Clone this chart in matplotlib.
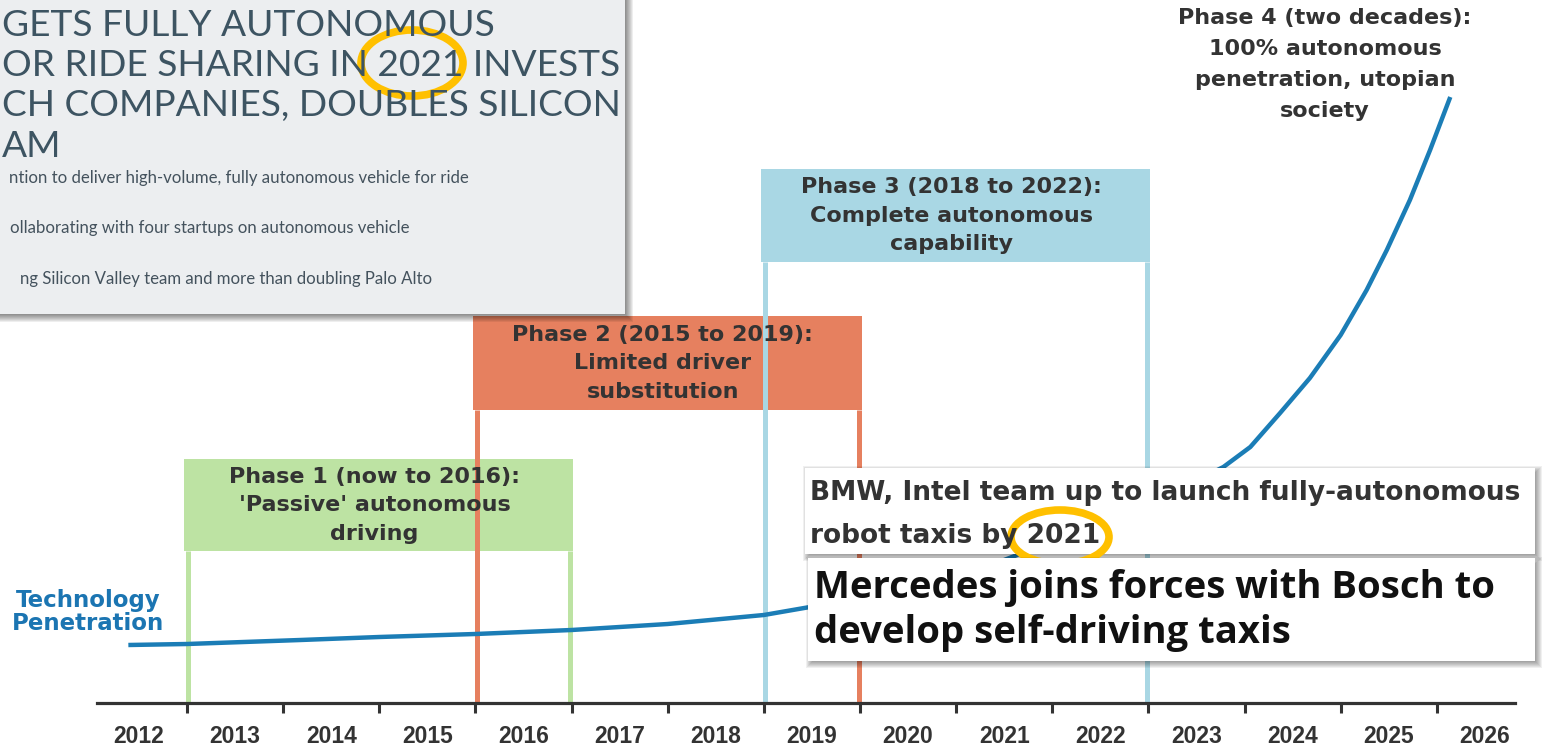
import matplotlib
matplotlib.use("Agg")
import matplotlib.pyplot as plt
from matplotlib.patches import Rectangle, Ellipse

# ---------------- data ----------------
years = list(range(2012, 2027))
tick_years = list(range(2013, 2027))

phase_labels = [
    "Phase 1 (now to 2016):\n'Passive' autonomous\ndriving",
    "Phase 2 (2015 to 2019):\nLimited driver\nsubstitution",
    "Phase 3 (2018 to 2022):\nComplete autonomous\ncapability",
]
phase_start = [2013, 2016, 2019]
phase_end = [2017, 2020, 2023]
phase4_label = "Phase 4 (two decades):\n100% autonomous\npenetration, utopian\nsociety"

curve_label = "Technology\nPenetration"
curve_years = [2012.39, 2013.0, 2014.18, 2015.0, 2016.0, 2017.0, 2018.0, 2019.0,
               2019.48, 2020.5, 2021.5, 2022.5, 2023.2, 2023.78, 2024.06, 2024.37,
               2024.68, 2025.0, 2025.27, 2025.48, 2025.72, 2025.93, 2026.14]
curve_values = [58, 59, 63, 66, 69, 73, 79, 88, 96, 115, 143, 180, 208, 236,
                256, 290, 325, 368, 413, 453, 503, 553, 606]

ford_headline = ["GETS FULLY AUTONOMOUS", "OR RIDE SHARING IN 2021 INVESTS",
                 "CH COMPANIES, DOUBLES SILICON", "AM"]
ford_body = ["ntion to deliver high-volume, fully autonomous vehicle for ride",
             "ollaborating with four startups on autonomous vehicle",
             "ng Silicon Valley team and more than doubling Palo Alto"]
bmw_headline = ["BMW, Intel team up to launch fully-autonomous", "robot taxis by 2021"]
mercedes_headline = ["Mercedes joins forces with Bosch to", "develop self-driving taxis"]

# ---------------- layout / style ----------------
W, H, DPI = 1543, 747, 100
PX_PER_YEAR = 96.14


def px2year(px):
    return 2013 + (px - 187) / PX_PER_YEAR


phase_colors = ["#BDE3A3", "#E6805F", "#A9D7E4"]
header_top = [244, 387, 534]
header_bot = [152, 293, 441]
TEXT_DARK = "#333333"
BLUE = "#1B7DB6"
YELLOW = "#FFC000"

fig = plt.figure(figsize=(W / DPI, H / DPI), dpi=DPI)
fig.patch.set_facecolor("white")

ax = fig.add_axes([0, 0, 1, 1])
ax.set_xlim(px2year(0), px2year(W))
ax.set_ylim(703 - H, 703)
ax.set_facecolor("white")
for s in ["left", "right", "top"]:
    ax.spines[s].set_visible(False)
ax.spines["bottom"].set_position(("data", 0))
ax.spines["bottom"].set_bounds(px2year(97), px2year(1515))
ax.spines["bottom"].set_linewidth(2.3)
ax.spines["bottom"].set_color(TEXT_DARK)
ax.spines["bottom"].set_zorder(4)
ax.set_yticks([])
ax.set_xticks(tick_years)
ax.set_xticklabels([])
ax.tick_params(axis="x", which="major", direction="out", length=7.5, width=2.2,
               color=TEXT_DARK)
ax.set_xticks([y + 0.5 for y in years], minor=True)
ax.set_xticklabels([str(y) for y in years], minor=True)
ax.tick_params(axis="x", which="minor", length=0, pad=16, labelsize=16.5,
               labelcolor=TEXT_DARK)
for lbl in ax.get_xticklabels(minor=True):
    lbl.set_fontfamily(["Liberation Sans", "DejaVu Sans"])
    lbl.set_fontweight("bold")

# phases
LINE_STEP = 28.5
for lab, s, e, c, top, bot in zip(phase_labels, phase_start, phase_end,
                                  phase_colors, header_top, header_bot):
    ax.add_patch(Rectangle((s - 0.03, bot), (e - s) + 0.05, top - bot,
                           facecolor=c, edgecolor="none", zorder=2))
    ax.vlines([s + 0.015, e - 0.015], 0, bot, colors=c, lw=3.6, zorder=2)
    lines = lab.split("\n")
    cy = (top + bot) / 2
    n = len(lines)
    for k, ln in enumerate(lines):
        ax.text((s + e) / 2 - 0.05, cy + ((n - 1) / 2 - k) * LINE_STEP, ln,
                ha="center", va="center", fontsize=16, fontweight="bold",
                family=["DejaVu Sans"], color=TEXT_DARK, zorder=3)

lines4 = phase4_label.split("\n")
for k, ln in enumerate(lines4):
    ax.text(px2year(1325), 638.5 + (1.5 - k) * 31, ln, ha="center", va="center",
            fontsize=16, fontweight="bold", family=["DejaVu Sans"],
            color=TEXT_DARK, zorder=3)

# technology penetration curve
ax.plot(curve_years, curve_values, color=BLUE, lw=3.2, zorder=3,
        solid_capstyle="butt", solid_joinstyle="round")
for k, ln in enumerate(curve_label.split("\n")):
    ax.text(px2year(88), 103 - k * 23, ln, ha="center", va="center",
            fontsize=16.5, fontweight="bold", family=["DejaVu Sans"],
            color="#1B75B2", zorder=3)

# ---------------- overlays (pixel coordinates) ----------------
ov = fig.add_axes([0, 0, 1, 1], zorder=5)
ov.set_xlim(0, W)
ov.set_ylim(H, 0)
ov.axis("off")
ov.patch.set_alpha(0)


def shadowed_box(x0, y0, x1, y1, fc, dx=6, dy=6, n=7, alpha=0.06):
    for k in range(1, n + 1):
        ov.add_patch(Rectangle((x0 + dx - k, y0 + dy - k), (x1 - x0) + 2 * k - dx,
                               (y1 - y0) + 2 * k - dy, facecolor="black",
                               edgecolor="none", alpha=alpha))
    ov.add_patch(Rectangle((x0, y0), x1 - x0, y1 - y0, facecolor=fc,
                           edgecolor="none"))


# Ford screenshot
shadowed_box(-20, -20, 625, 314, "#ECEEF0", dx=7, dy=6, n=8, alpha=0.065)
ford_base = [36, 76, 116, 157]
for t, yb in zip(ford_headline, ford_base):
    ov.text(2, yb, t, ha="left", va="baseline", fontsize=26.7,
            family=["Lato", "DejaVu Sans"], fontweight="normal", color="#3D5462")
body_right = [469, 410, 432]
body_y = [178, 228, 279]
for t, xr, yc in zip(ford_body, body_right, body_y):
    ov.text(xr, yc, t, ha="right", va="center", fontsize=12.1,
            family=["Lato", "DejaVu Sans"], fontweight="normal", color="#44525D")
ov.add_patch(Ellipse((412, 63), 102, 66, facecolor="none", edgecolor=YELLOW,
                     lw=5.5))

# BMW headline
shadowed_box(805, 468, 1535, 554, "white", dx=5, dy=5, n=7, alpha=0.06)
bmw_base = [500, 543]
for t, yb in zip(bmw_headline, bmw_base):
    ov.text(810, yb, t, ha="left", va="baseline", fontsize=19, fontweight="bold",
            family=["DejaVu Sans"], color="#333333")
ov.add_patch(Ellipse((1060, 537), 98, 54, facecolor="none", edgecolor=YELLOW,
                     lw=5.5))

# Mercedes headline
shadowed_box(808, 558, 1535, 661, "white", dx=5, dy=6, n=7, alpha=0.06)
merc_base = [598, 643]
for t, yb in zip(mercedes_headline, merc_base):
    ov.text(814, yb, t, ha="left", va="baseline", fontsize=27.5, fontweight="bold",
            family=["Open Sans", "DejaVu Sans"], color="#111111")

fig.savefig("out.png", dpi=DPI)
